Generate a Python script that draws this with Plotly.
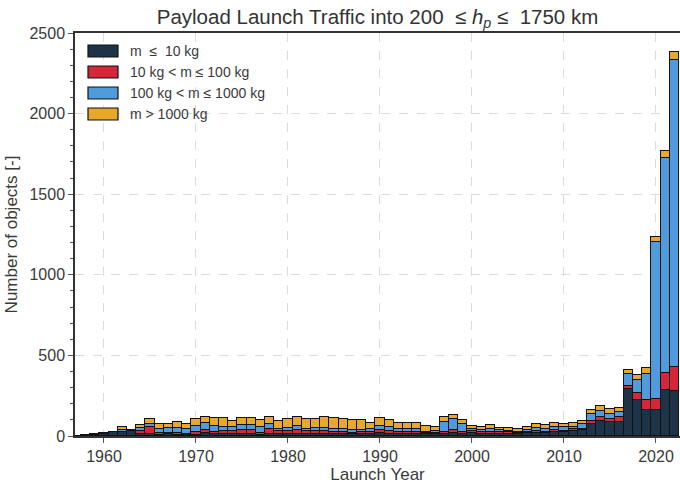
import plotly.graph_objects as go

years = list(range(1957, 2023))

mass_le_10 = [1, 4, 8, 14, 24, 22, 30, 12, 12, 8, 10, 8, 6, 8, 17, 10, 12, 10, 10, 10,
              8, 10, 12, 10, 14, 10, 12, 12, 10, 12, 10, 12, 12, 20, 14, 14, 12, 14, 14, 12,
              14, 16, 14, 18, 12, 14, 12, 12, 14, 16, 18, 16, 22, 22, 30, 40, 77, 93, 87, 89,
              291, 223, 161, 161, 285, 281]
mass_10_100 = [0, 0, 0, 0, 0, 5, 3, 19, 41, 8, 10, 9, 8, 19, 21, 17, 19, 21, 27, 27,
               9, 31, 17, 23, 23, 19, 19, 19, 17, 14, 10, 13, 15, 18, 17, 12, 13, 13, 6, 9,
               13, 21, 13, 13, 11, 13, 10, 10, 6, 11, 13, 10, 17, 12, 12, 6, 17, 25, 19, 29,
               21, 42, 62, 67, 108, 149]
mass_100_1000 = [0, 1, 1, 3, 3, 12, 4, 20, 19, 25, 31, 35, 27, 35, 41, 38, 27, 27, 31, 29,
                 39, 31, 16, 18, 23, 17, 17, 19, 19, 17, 17, 10, 17, 24, 27, 16, 17, 17, 7, 10,
                 62, 68, 47, 12, 12, 14, 13, 12, 6, 10, 19, 19, 17, 19, 14, 26, 41, 37, 29, 29,
                 71, 82, 162, 973, 1329, 1902]
mass_gt_1000 = [0, 0, 1, 0, 0, 15, 0, 17, 31, 36, 21, 33, 31, 41, 39, 45, 52, 37, 44, 46,
                43, 48, 50, 52, 60, 61, 59, 66, 64, 60, 60, 64, 39, 50, 41, 37, 37, 35, 37, 27,
                31, 25, 25, 21, 21, 25, 17, 14, 17, 21, 27, 23, 27, 21, 27, 21, 27, 31, 31, 25,
                26, 31, 35, 35, 48, 52]

series_names = ["m  \u2264  10 kg", "10 kg < m \u2264 100 kg",
                "100 kg < m \u2264 1000 kg", "m > 1000 kg"]
series_values = [mass_le_10, mass_10_100, mass_100_1000, mass_gt_1000]
series_colors = ["#1d3448", "#d62639", "#4f9bdc", "#e8a82c"]

x_ticks = [1960, 1970, 1980, 1990, 2000, 2010, 2020]
y_ticks = [0, 500, 1000, 1500, 2000, 2500]

FONT = "Liberation Sans, Arial, sans-serif"
TXT = "#3a3a3a"

W, H = 680, 484
ML, MR, MT, MB = 75, 0, 33, 48
PW, PH = W - ML - MR, H - MT - MB

fig = go.Figure()
for name, vals, col in zip(series_names, series_values, series_colors):
    fig.add_trace(go.Bar(
        x=years, y=vals, name=name, showlegend=False,
        marker=dict(color=col, line=dict(color="#111111", width=1.3)),
        width=1.0,
    ))

# legend drawn as patches + labels (matplotlib-style wide patches)
shapes = []
annotations = []
row_centers_px = [51, 72, 93, 114]
for i, (name, col) in enumerate(zip(series_names, series_colors)):
    cy = row_centers_px[i]
    y0 = 1 - (cy + 6 - MT) / PH
    y1 = 1 - (cy - 6 - MT) / PH
    shapes.append(dict(type="rect", xref="paper", yref="paper",
                       x0=(88 - ML) / PW, x1=(118 - ML) / PW, y0=y0, y1=y1,
                       fillcolor=col, line=dict(color="#111111", width=1.2)))
    annotations.append(dict(xref="paper", yref="paper",
                            x=(128 - ML) / PW, y=1 - (cy - MT) / PH,
                            xanchor="left", yanchor="middle", showarrow=False,
                            text=name, font=dict(size=14, color=TXT, family=FONT)))

fig.update_layout(
    width=W, height=H,
    barmode="stack", bargap=0,
    paper_bgcolor="white", plot_bgcolor="white",
    margin=dict(l=ML, r=MR, t=MT, b=MB, autoexpand=False),
    font=dict(family=FONT, color=TXT, size=16),
    title=dict(
        text="Payload Launch Traffic into 200  \u2264 <i>h</i><sub><i>p</i></sub> \u2264  1750 km",
        x=(ML + PW / 2) / W, xanchor="center", y=1 - 17 / H, yanchor="middle",
        xref="container", yref="container",
        font=dict(size=20.5, color="#333333", family=FONT),
    ),
    shapes=shapes,
    annotations=annotations,
    showlegend=False,
)

fig.update_xaxes(
    range=[1956.85, 2022.61],
    tickvals=x_ticks, ticktext=[str(v) for v in x_ticks],
    ticks="outside", ticklen=5, tickwidth=1.2, tickcolor="#555555",
    showline=True, linecolor="#333333", linewidth=1.5, mirror=True,
    showgrid=True, gridcolor="#dcdcdc", gridwidth=1, griddash="dash",
    zeroline=False, automargin=False,
    title=dict(text="Launch Year", font=dict(size=17, color=TXT), standoff=2),
    tickfont=dict(size=16, color=TXT),
)
fig.update_yaxes(
    range=[0, 2500],
    tickvals=y_ticks, ticktext=[str(v) for v in y_ticks],
    ticks="outside", ticklen=5, tickwidth=1.2, tickcolor="#555555",
    minor=dict(dtick=100, ticks="outside", ticklen=3, tickcolor="#555555", showgrid=False),
    showline=True, linecolor="#333333", linewidth=1.5,
    showgrid=True, gridcolor="#dcdcdc", gridwidth=1, griddash="dash",
    zeroline=False, automargin=False,
    title=dict(text="Number of objects [-]", font=dict(size=17, color=TXT), standoff=8),
    tickfont=dict(size=16, color=TXT),
)

fig.write_html(
    "out.html",
    config={"displayModeBar": False},
    post_script="document.body.style.margin='0px';document.body.style.overflow='hidden';",
)
